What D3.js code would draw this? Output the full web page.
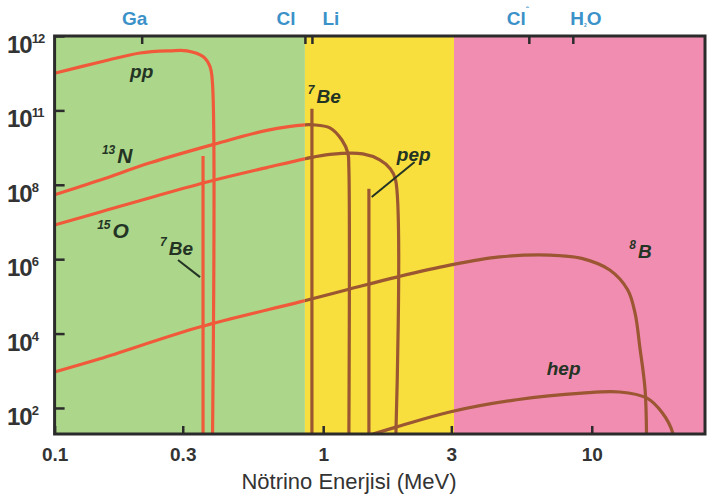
<!DOCTYPE html>
<html>
<head>
<meta charset="utf-8">
<script src="https://cdn.jsdelivr.net/npm/d3@7"></script>
<style>
  body { margin: 0; background: #fff; }
  svg { display: block; font-family: "Liberation Sans", Arial, sans-serif; }
</style>
</head>
<body>
<svg width="709" height="496"></svg>
<script>
// energies in MeV, fluxes in cm^-2 s^-1 (MeV^-1 for the continuous spectra)
var ppEnergy  = [0.1, 0.148, 0.208, 0.269, 0.311, 0.357, 0.379, 0.387, 0.387];
var ppFlux    = [1.0e11, 2.0e11, 3.5e11, 4.0e11, 4.0e11, 2.8e11, 1.5e11, 5.5e10, 10];

var n13Energy = [0.1, 0.148, 0.227, 0.388, 0.617, 0.855, 0.916, 1.059, 1.174, 1.236, 1.246, 1.246];
var n13Flux   = [5.4e7, 1.35e8, 3.9e8, 1.2e9, 2.9e9, 4.1e9, 4.1e9, 3.4e9, 1.6e9, 7.1e8, 3.0e8, 10];

var o15Energy = [0.1, 0.148, 0.227, 0.388, 0.617, 0.855, 1.059, 1.405, 1.624, 1.77, 1.86, 1.86];
var o15Flux   = [8.3e6, 1.86e7, 4.5e7, 1.3e8, 2.9e8, 5.0e8, 6.6e8, 6.8e8, 4.7e8, 2.8e8, 1.35e8, 10];

var b8Energy  = [0.1, 0.1475, 0.347, 0.819, 1.257, 1.88, 2.96, 4.54, 6.97, 9.17, 11.67, 13.6, 14.5, 15.1, 15.8, 16.0];
var b8Flux    = [9.3e2, 2.1e3, 1.5e4, 7.1e4, 1.58e5, 3.3e5, 6.9e5, 1.15e6, 1.29e6, 1.05e6, 5.1e5, 1.5e5, 3.5e4, 4.3e3, 3.0e2, 10];

var hepEnergy = [1.467, 1.88, 2.96, 5.25, 9.2, 12.7, 16.0, 18.3, 20.0, 20.3];
var hepFlux   = [18, 31, 78, 166, 251, 269, 186, 74, 22, 10];

// monoenergetic lines
var lineEnergy = [0.357, 0.908, 1.48];
var lineFlux   = [5.9e8, 1.1e10, 7.8e7];

// detector thresholds (top axis)
var detectorNames      = ['Ga', 'Cl', 'Li', 'Cl', 'H'];
var detectorThresholds = [0.211, 0.855, 0.908, 5.83, 8.5];

// background bands
var bandEdges  = [0.1, 0.855, 3.07, 26.4];
var bandColors = ['#acd78b', '#f8df3e', '#f28db2'];

// axis ticks
var xTicks = [0.1, 0.3, 1, 3, 10];
var xTickLabels = ['0.1', '0.3', '1', '3', '10'];
var yTicks = [1e12, 1e10, 1e8, 1e6, 1e4, 1e2];
var yTickExps = ['12', '11', '8', '6', '4', '2'];

var svg = d3.select('svg');
var plot = {l: 54.6, r: 705, t: 36, b: 434};

var xScale = d3.scaleLog().domain([0.1, 26.4]).range([plot.l, plot.r]);
var yScale = d3.scaleLog().domain([Math.pow(10, 1.3), 1e12]).range([plot.b, plot.t]);

var red = '#f05a3a';
var brown = '#9b5632';
var ink = '#243424';

// background bands
svg.selectAll('.band')
    .data(bandColors)
    .enter().append('rect')
    .attr('class', 'band')
    .attr('x', function(d, i) { return xScale(bandEdges[i]); })
    .attr('width', function(d, i) { return xScale(bandEdges[i + 1]) - xScale(bandEdges[i]); })
    .attr('y', plot.t)
    .attr('height', plot.b - plot.t)
    .attr('fill', function(d) { return d; });

// clip paths: curves are red over the green band, brown elsewhere
var defs = svg.append('defs');
defs.append('clipPath').attr('id', 'clipGreen').append('rect')
    .attr('x', plot.l).attr('y', plot.t)
    .attr('width', xScale(bandEdges[1]) - plot.l).attr('height', plot.b - plot.t);
defs.append('clipPath').attr('id', 'clipRest').append('rect')
    .attr('x', xScale(bandEdges[1])).attr('y', plot.t)
    .attr('width', plot.r - xScale(bandEdges[1])).attr('height', plot.b - plot.t);

var spectra = [
    {e: ppEnergy, f: ppFlux},
    {e: n13Energy, f: n13Flux},
    {e: o15Energy, f: o15Flux},
    {e: b8Energy, f: b8Flux},
    {e: hepEnergy, f: hepFlux}
];

var line = d3.line()
    .x(function(d) { return xScale(d[0]); })
    .y(function(d) { return yScale(d[1]); })
    .curve(d3.curveCatmullRom.alpha(0.5));

[['clipGreen', red], ['clipRest', brown]].forEach(function(c) {
    var g = svg.append('g').attr('clip-path', 'url(#' + c[0] + ')');
    g.selectAll('.spec')
        .data(spectra)
        .enter().append('path')
        .attr('class', 'spec')
        .attr('d', function(s) { return line(d3.zip(s.e, s.f)); })
        .attr('fill', 'none')
        .attr('stroke', c[1])
        .attr('stroke-width', 3.2);
    g.selectAll('.mono')
        .data(lineEnergy)
        .enter().append('line')
        .attr('class', 'mono')
        .attr('x1', function(d) { return xScale(d); })
        .attr('x2', function(d) { return xScale(d); })
        .attr('y1', function(d, i) { return yScale(lineFlux[i]); })
        .attr('y2', plot.b)
        .attr('stroke', c[1])
        .attr('stroke-width', 3.2);
});

// axes
var bottomAxis = svg.append('g')
    .attr('transform', 'translate(0,' + plot.b + ')')
    .call(d3.axisBottom(xScale).tickValues(xTicks).tickSize(-8).tickPadding(14)
        .tickFormat(function(d, i) { return xTickLabels[i]; }));
bottomAxis.selectAll('text')
    .attr('font-size', 19).attr('font-weight', 'bold').attr('fill', '#333')
    .attr('font-family', '"Liberation Sans", Arial, sans-serif');

var topAxis = svg.append('g')
    .attr('transform', 'translate(0,' + plot.t + ')')
    .call(d3.axisTop(xScale).tickValues(detectorThresholds).tickSize(-8).tickFormat(''));

var leftAxis = svg.append('g')
    .attr('transform', 'translate(' + plot.l + ',0)')
    .call(d3.axisLeft(yScale).tickValues(yTicks).tickSize(-10).tickFormat(''));

[bottomAxis, topAxis, leftAxis].forEach(function(a) {
    a.select('.domain').remove();
    a.selectAll('.tick line').attr('stroke', '#2b2b2b').attr('stroke-width', 2.5);
});

// frame
svg.append('rect')
    .attr('x', plot.l).attr('y', plot.t)
    .attr('width', plot.r - plot.l).attr('height', plot.b - plot.t)
    .attr('fill', 'none').attr('stroke', '#2b2b2b').attr('stroke-width', 3);

// y tick labels 10^n
var yLab = svg.selectAll('.ylab')
    .data(yTicks)
    .enter().append('text')
    .attr('class', 'ylab')
    .attr('x', 7)
    .attr('y', function(d) { return yScale(d) + 17; })
    .attr('font-size', 24).attr('font-weight', 'bold').attr('fill', '#333')
    .attr('letter-spacing', -1);
yLab.append('tspan').text('10');
yLab.append('tspan')
    .attr('dy', -10).attr('font-size', 13)
    .text(function(d, i) { return yTickExps[i]; });

// x axis title
svg.append('text')
    .attr('x', 349).attr('y', 489)
    .attr('text-anchor', 'middle')
    .attr('font-size', 22).attr('fill', '#333')
    .text('Nötrino Enerjisi (MeV)');

// detector labels on top
var detOffset = [-7, -19, 19, -11, 13];
var det = svg.selectAll('.det')
    .data(detectorThresholds)
    .enter().append('text')
    .attr('class', 'det')
    .attr('x', function(d, i) { return xScale(d) + detOffset[i]; })
    .attr('y', 25)
    .attr('text-anchor', 'middle')
    .attr('font-size', 19).attr('font-weight', 'bold').attr('fill', '#3b92c8');
det.append('tspan').text(function(d, i) { return detectorNames[i]; });
det.filter(function(d, i) { return i === 3; })
    .append('tspan').attr('dy', -12).attr('font-size', 9).text('ˆ');
det.filter(function(d, i) { return i === 4; })
    .each(function() {
        var t = d3.select(this);
        t.append('tspan').attr('dy', 2).attr('font-size', 5).text('2');
        t.append('tspan').attr('dy', -2).text('O');
    });

// curve labels
var labelSup   = ['', '7', '13', '15', '7', '', '8', ''];
var labelMain  = ['pp', 'Be', 'N', 'O', 'Be', 'pep', 'B', 'hep'];
var labelE     = [0.191, 0.877, 0.150, 0.144, 0.247, 1.88, 13.8, 6.8];
var labelF     = [7.4e10, 1.6e10, 3.9e8, 3.7e6, 1.3e6, 4.4e8, 1.07e6, 7.8e2];
var labelSize  = [19, 19, 21, 21, 19, 19, 19, 19];

var labs = svg.selectAll('.clab')
    .data(labelMain)
    .enter().append('text')
    .attr('class', 'clab')
    .attr('x', function(d, i) { return xScale(labelE[i]); })
    .attr('y', function(d, i) { return yScale(labelF[i]); })
    .attr('font-weight', 'bold').attr('font-style', 'italic')
    .attr('fill', ink);
labs.append('tspan')
    .attr('font-size', 12).attr('dy', -9)
    .text(function(d, i) { return labelSup[i]; });
labs.append('tspan')
    .attr('font-size', function(d, i) { return labelSize[i]; })
    .attr('dy', function(d, i) { return labelSup[i] ? 9 : 0; })
    .attr('dx', function(d, i) { return labelSup[i] ? 2 : 0; })
    .text(function(d) { return d; });

// leader lines for the 7Be (0.38) and pep labels
var leaderFrom = [[0.288, 9.5e5], [2.19, 4.1e8]];
var leaderTo   = [[0.348, 3.3e5], [1.516, 4.7e7]];
svg.selectAll('.leader')
    .data(leaderFrom)
    .enter().append('line')
    .attr('x1', function(d) { return xScale(d[0]); })
    .attr('y1', function(d) { return yScale(d[1]); })
    .attr('x2', function(d, i) { return xScale(leaderTo[i][0]); })
    .attr('y2', function(d, i) { return yScale(leaderTo[i][1]); })
    .attr('stroke', ink).attr('stroke-width', 2);
</script>
</body>
</html>
